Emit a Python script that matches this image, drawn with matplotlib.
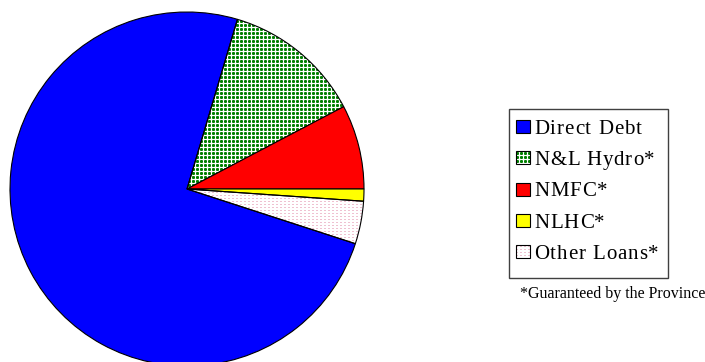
import numpy as np
import matplotlib
matplotlib.use("Agg")
import matplotlib.pyplot as plt
from matplotlib.patches import Rectangle
from matplotlib.font_manager import FontProperties

# Debt composition (percent of total)
labels = ["Direct Debt", "N&L Hydro*", "NMFC*", "NLHC*", "Other Loans*"]
shares = [74.6, 12.7, 7.7, 1.1, 3.9]
footnote = "*Guaranteed by the Province"

W, H = 705, 362
SERIF = "Liberation Serif"

fig = plt.figure(figsize=(W / 100, H / 100), dpi=100)
ax = fig.add_axes([0, 0, 1, 1])


def py(y):
    """Convert a top-down pixel row into the axes' y coordinate."""
    return H - y


def texture(tile):
    reps = (H // tile.shape[0] + 1, W // tile.shape[1] + 1, 1)
    return np.tile(tile, reps)[:H, :W]


# green dotted fill
green = np.array([0.0, 0.5, 0.0])
soft = 0.75 * green + 0.25
g_tile = np.ones((4, 4, 3))
g_tile[0:3, 0:3] = green
for r, c in [(0, 0), (0, 2), (2, 0), (2, 2)]:
    g_tile[r, c] = soft
green_tex = texture(g_tile)

# light pink speckle fill
p_tile = np.ones((3, 4, 3))
p_tile[0, 0:2] = [0.94, 0.76, 0.82]
pink_tex = texture(p_tile)

fills = ["#0000ff", green_tex, "#ff0000", "#ffff00", pink_tex]
solid = [f if isinstance(f, str) else "none" for f in fills]

wedges, _ = ax.pie(shares, startangle=342, counterclock=False, radius=177,
                   center=(187, py(189)), colors=solid,
                   wedgeprops=dict(edgecolor="black", linewidth=0.8))


def apply_texture(patch, tex, z):
    im = ax.imshow(tex, extent=(0, W, 0, H), origin="upper",
                   interpolation="nearest", zorder=z)
    im.set_clip_path(patch)


for w, f in zip(wedges, fills):
    if not isinstance(f, str):
        apply_texture(w, f, 0.5)

ax.set_xlim(0, W)
ax.set_ylim(0, H)
ax.set_aspect("equal")
ax.axis("off")

# legend box
ax.add_patch(Rectangle((509, py(278)), 159, 169, facecolor="white",
                       edgecolor="#404040", linewidth=1.0, zorder=2))

renderer = fig.canvas.get_renderer()


def tracked_text(x, y, s, size, tracking):
    prop = FontProperties(family=SERIF, size=size)

    def width(t):
        return renderer.get_text_width_height_descent(t, prop, ismath=False)[0]

    for i, ch in enumerate(s):
        if ch == " ":
            continue
        xi = x + width(s[:i + 1]) - width(ch) + i * tracking
        ax.text(xi, y, ch, fontfamily=SERIF, fontsize=size,
                ha="left", va="baseline", color="black", zorder=4)


base0, step = 134, 31.25
for i, (lab, f) in enumerate(zip(labels, fills)):
    base = base0 + i * step
    textured = not isinstance(f, str)
    sq = Rectangle((516, py(base - 1)), 14, 13,
                   facecolor="none" if textured else f,
                   edgecolor="black", linewidth=0.8, zorder=3.5)
    ax.add_patch(sq)
    if textured:
        apply_texture(sq, f, 3)
    tracked_text(534, py(base), lab, 15, 0.9)

ax.text(520, py(298), footnote, fontfamily=SERIF, fontsize=11.5,
        ha="left", va="baseline", color="black")

fig.savefig("out.png", dpi=100)
